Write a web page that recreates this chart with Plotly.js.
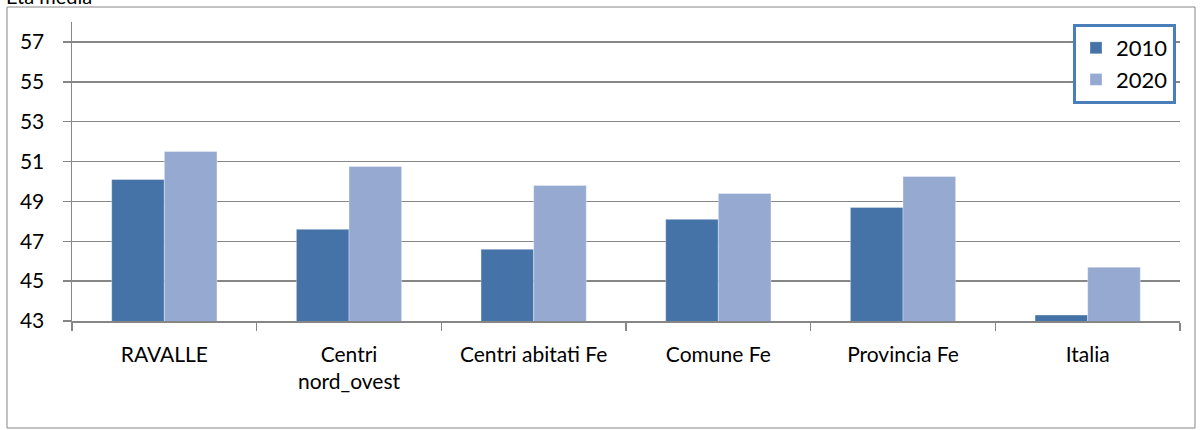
<!DOCTYPE html>
<html>
<head>
<meta charset="utf-8">
<script src="https://cdn.plot.ly/plotly-3.0.1.min.js"></script>
<style>html,body{margin:0;padding:0;background:#fff;}#chart{width:1200px;height:430px;}</style>
</head>
<body>
<div id="chart"></div>
<script>
const categories = ["RAVALLE", "Centri<br>nord_ovest", "Centri abitati Fe", "Comune Fe", "Provincia Fe", "Italia"];
const values2010 = [50.1, 47.6, 46.6, 48.1, 48.7, 43.3];
const values2020 = [51.5, 50.75, 49.8, 49.4, 50.25, 45.7];
const seriesNames = ["2010", "2020"];
const yTicks = [43, 45, 47, 49, 51, 53, 55, 57];

const W = 1200, H = 430;
const L = 72, R = 1180, T = 22, B = 321;
const px = x => (x - L) / (R - L);
const py = y => (B - y) / (B - T);
const font = "Lato, 'Open Sans', sans-serif";

const traces = [
  {type: "bar", name: seriesNames[0], x: categories, y: values2010,
   marker: {color: "#4573a7", line: {color: "rgba(255,255,255,0.35)", width: 1}}},
  {type: "bar", name: seriesNames[1], x: categories, y: values2020,
   marker: {color: "#95a9d1", line: {color: "rgba(255,255,255,0.35)", width: 1}}}
];

const layout = {
  width: W, height: H,
  margin: {l: L, r: W - R, t: T, b: H - B, pad: 0},
  paper_bgcolor: "#fff", plot_bgcolor: "#fff",
  barmode: "group", bargap: 0.43, bargroupgap: 0,
  font: {family: font, size: 21, color: "#000"},
  showlegend: true,
  legend: {x: px(1073), y: py(24), xanchor: "left", yanchor: "top",
           bgcolor: "#fff", bordercolor: "#4a7ebb", borderwidth: 3,
           font: {family: font, size: 22, color: "#000"}, itemwidth: 30},
  xaxis: {type: "category", showline: true, linecolor: "#868686", linewidth: 1.5,
          ticks: "outside", tickson: "boundaries", ticklen: 8, tickcolor: "#868686", tickwidth: 1.5,
          showgrid: false, ticklabelstandoff: 14, tickfont: {family: font, size: 21}},
  yaxis: {range: [43, 58], tickvals: yTicks, ticktext: yTicks.map(String),
          showline: true, linecolor: "#868686", linewidth: 1.5,
          ticks: "outside", ticklen: 8, tickcolor: "#868686", tickwidth: 1.5,
          showgrid: true, gridcolor: "#868686", gridwidth: 1.5, zeroline: false,
          ticklabelstandoff: 14, tickfont: {family: font, size: 21}},
  shapes: [
    {type: "rect", xref: "paper", yref: "paper", x0: px(7), x1: px(1195), y0: py(428), y1: py(7),
     line: {color: "#868686", width: 1}, fillcolor: "rgba(0,0,0,0)", layer: "below"}
  ],
  annotations: [
    {xref: "paper", yref: "paper", x: px(4), y: py(10), xanchor: "left", yanchor: "bottom",
     text: "Età media", showarrow: false, font: {family: font, size: 20, color: "#000"}}
  ]
};

Plotly.newPlot("chart", traces, layout, {displayModeBar: false, staticPlot: true});
</script>
</body>
</html>
